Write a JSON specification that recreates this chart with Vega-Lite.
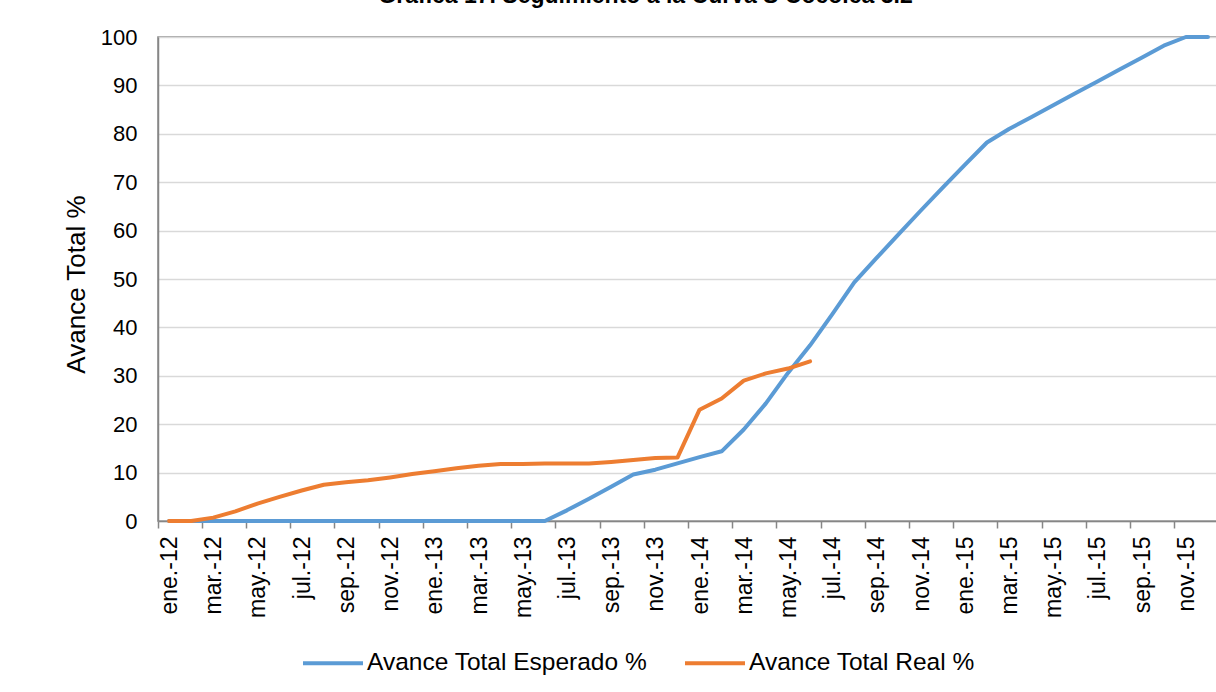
{
  "$schema": "https://vega.github.io/schema/vega-lite/v6.json",
  "width": 1061,
  "height": 484,
  "autosize": {"type": "none"},
  "padding": {"left": 158, "top": 37, "right": 0, "bottom": 171},
  "background": "white",
  "title": {
    "text": "Gráfica 17. Seguimiento a la Curva S Cocoica 3.2",
    "fontSize": 23,
    "fontWeight": "bold",
    "color": "#000000",
    "anchor": "middle",
    "frame": "group",
    "offset": 18,
    "dx": -43
  },
  "data": {
    "values": [
      {"mes": "ene.-12", "serie": "Avance Total Esperado %", "avance": 0},
      {"mes": "feb.-12", "serie": "Avance Total Esperado %", "avance": 0},
      {"mes": "mar.-12", "serie": "Avance Total Esperado %", "avance": 0},
      {"mes": "abr.-12", "serie": "Avance Total Esperado %", "avance": 0},
      {"mes": "may.-12", "serie": "Avance Total Esperado %", "avance": 0},
      {"mes": "jun.-12", "serie": "Avance Total Esperado %", "avance": 0},
      {"mes": "jul.-12", "serie": "Avance Total Esperado %", "avance": 0},
      {"mes": "ago.-12", "serie": "Avance Total Esperado %", "avance": 0},
      {"mes": "sep.-12", "serie": "Avance Total Esperado %", "avance": 0},
      {"mes": "oct.-12", "serie": "Avance Total Esperado %", "avance": 0},
      {"mes": "nov.-12", "serie": "Avance Total Esperado %", "avance": 0},
      {"mes": "dic.-12", "serie": "Avance Total Esperado %", "avance": 0},
      {"mes": "ene.-13", "serie": "Avance Total Esperado %", "avance": 0},
      {"mes": "feb.-13", "serie": "Avance Total Esperado %", "avance": 0},
      {"mes": "mar.-13", "serie": "Avance Total Esperado %", "avance": 0},
      {"mes": "abr.-13", "serie": "Avance Total Esperado %", "avance": 0},
      {"mes": "may.-13", "serie": "Avance Total Esperado %", "avance": 0},
      {"mes": "jun.-13", "serie": "Avance Total Esperado %", "avance": 0},
      {"mes": "jul.-13", "serie": "Avance Total Esperado %", "avance": 2.2},
      {"mes": "ago.-13", "serie": "Avance Total Esperado %", "avance": 4.6},
      {"mes": "sep.-13", "serie": "Avance Total Esperado %", "avance": 7.1},
      {"mes": "oct.-13", "serie": "Avance Total Esperado %", "avance": 9.6},
      {"mes": "nov.-13", "serie": "Avance Total Esperado %", "avance": 10.6},
      {"mes": "dic.-13", "serie": "Avance Total Esperado %", "avance": 11.9},
      {"mes": "ene.-14", "serie": "Avance Total Esperado %", "avance": 13.2},
      {"mes": "feb.-14", "serie": "Avance Total Esperado %", "avance": 14.4},
      {"mes": "mar.-14", "serie": "Avance Total Esperado %", "avance": 18.9},
      {"mes": "abr.-14", "serie": "Avance Total Esperado %", "avance": 24.3},
      {"mes": "may.-14", "serie": "Avance Total Esperado %", "avance": 30.6},
      {"mes": "jun.-14", "serie": "Avance Total Esperado %", "avance": 36.3},
      {"mes": "jul.-14", "serie": "Avance Total Esperado %", "avance": 42.7},
      {"mes": "ago.-14", "serie": "Avance Total Esperado %", "avance": 49.3},
      {"mes": "sep.-14", "serie": "Avance Total Esperado %", "avance": 54.3},
      {"mes": "oct.-14", "serie": "Avance Total Esperado %", "avance": 59.2},
      {"mes": "nov.-14", "serie": "Avance Total Esperado %", "avance": 64.1},
      {"mes": "dic.-14", "serie": "Avance Total Esperado %", "avance": 68.9},
      {"mes": "ene.-15", "serie": "Avance Total Esperado %", "avance": 73.6},
      {"mes": "feb.-15", "serie": "Avance Total Esperado %", "avance": 78.2},
      {"mes": "mar.-15", "serie": "Avance Total Esperado %", "avance": 81.0},
      {"mes": "abr.-15", "serie": "Avance Total Esperado %", "avance": 83.4},
      {"mes": "may.-15", "serie": "Avance Total Esperado %", "avance": 85.9},
      {"mes": "jun.-15", "serie": "Avance Total Esperado %", "avance": 88.4},
      {"mes": "jul.-15", "serie": "Avance Total Esperado %", "avance": 90.8},
      {"mes": "ago.-15", "serie": "Avance Total Esperado %", "avance": 93.3},
      {"mes": "sep.-15", "serie": "Avance Total Esperado %", "avance": 95.7},
      {"mes": "oct.-15", "serie": "Avance Total Esperado %", "avance": 98.2},
      {"mes": "nov.-15", "serie": "Avance Total Esperado %", "avance": 100},
      {"mes": "dic.-15", "serie": "Avance Total Esperado %", "avance": 100},
      {"mes": "ene.-12", "serie": "Avance Total Real %", "avance": 0},
      {"mes": "feb.-12", "serie": "Avance Total Real %", "avance": 0},
      {"mes": "mar.-12", "serie": "Avance Total Real %", "avance": 0.7},
      {"mes": "abr.-12", "serie": "Avance Total Real %", "avance": 2.0},
      {"mes": "may.-12", "serie": "Avance Total Real %", "avance": 3.6},
      {"mes": "jun.-12", "serie": "Avance Total Real %", "avance": 5.0},
      {"mes": "jul.-12", "serie": "Avance Total Real %", "avance": 6.3},
      {"mes": "ago.-12", "serie": "Avance Total Real %", "avance": 7.5},
      {"mes": "sep.-12", "serie": "Avance Total Real %", "avance": 8.0},
      {"mes": "oct.-12", "serie": "Avance Total Real %", "avance": 8.4},
      {"mes": "nov.-12", "serie": "Avance Total Real %", "avance": 9.0},
      {"mes": "dic.-12", "serie": "Avance Total Real %", "avance": 9.7},
      {"mes": "ene.-13", "serie": "Avance Total Real %", "avance": 10.3},
      {"mes": "feb.-13", "serie": "Avance Total Real %", "avance": 10.9},
      {"mes": "mar.-13", "serie": "Avance Total Real %", "avance": 11.4},
      {"mes": "abr.-13", "serie": "Avance Total Real %", "avance": 11.8},
      {"mes": "may.-13", "serie": "Avance Total Real %", "avance": 11.8},
      {"mes": "jun.-13", "serie": "Avance Total Real %", "avance": 11.9},
      {"mes": "jul.-13", "serie": "Avance Total Real %", "avance": 11.9},
      {"mes": "ago.-13", "serie": "Avance Total Real %", "avance": 11.9},
      {"mes": "sep.-13", "serie": "Avance Total Real %", "avance": 12.2},
      {"mes": "oct.-13", "serie": "Avance Total Real %", "avance": 12.6},
      {"mes": "nov.-13", "serie": "Avance Total Real %", "avance": 13.0},
      {"mes": "dic.-13", "serie": "Avance Total Real %", "avance": 13.1},
      {"mes": "ene.-14", "serie": "Avance Total Real %", "avance": 23.0},
      {"mes": "feb.-14", "serie": "Avance Total Real %", "avance": 25.3},
      {"mes": "mar.-14", "serie": "Avance Total Real %", "avance": 29.0},
      {"mes": "abr.-14", "serie": "Avance Total Real %", "avance": 30.5},
      {"mes": "may.-14", "serie": "Avance Total Real %", "avance": 31.5},
      {"mes": "jun.-14", "serie": "Avance Total Real %", "avance": 33.0}
    ]
  },
  "mark": {"type": "line", "strokeWidth": 4, "strokeCap": "round", "strokeJoin": "round"},
  "encoding": {
    "x": {
      "field": "mes",
      "type": "ordinal",
      "bandPosition": 0.5,
      "scale": {
        "type": "band",
        "paddingInner": 0,
        "paddingOuter": 0,
        "domain": ["ene.-12", "feb.-12", "mar.-12", "abr.-12", "may.-12", "jun.-12", "jul.-12", "ago.-12", "sep.-12", "oct.-12", "nov.-12", "dic.-12",
                   "ene.-13", "feb.-13", "mar.-13", "abr.-13", "may.-13", "jun.-13", "jul.-13", "ago.-13", "sep.-13", "oct.-13", "nov.-13", "dic.-13",
                   "ene.-14", "feb.-14", "mar.-14", "abr.-14", "may.-14", "jun.-14", "jul.-14", "ago.-14", "sep.-14", "oct.-14", "nov.-14", "dic.-14",
                   "ene.-15", "feb.-15", "mar.-15", "abr.-15", "may.-15", "jun.-15", "jul.-15", "ago.-15", "sep.-15", "oct.-15", "nov.-15", "dic.-15"]
      },
      "axis": {
        "title": null,
        "values": ["ene.-12", "mar.-12", "may.-12", "jul.-12", "sep.-12", "nov.-12",
                   "ene.-13", "mar.-13", "may.-13", "jul.-13", "sep.-13", "nov.-13",
                   "ene.-14", "mar.-14", "may.-14", "jul.-14", "sep.-14", "nov.-14",
                   "ene.-15", "mar.-15", "may.-15", "jul.-15", "sep.-15", "nov.-15"],
        "bandPosition": 0,
        "labelOffset": 1,
        "labelAngle": 270,
        "labelFontSize": 23,
        "labelColor": "#000000",
        "labelPadding": 8,
        "tickSize": 7,
        "tickWidth": 1.5,
        "tickColor": "#868686",
        "domainColor": "#868686",
        "domainWidth": 1.5,
        "grid": false
      }
    },
    "y": {
      "field": "avance",
      "type": "quantitative",
      "scale": {"domain": [0, 100], "nice": false},
      "axis": {
        "title": "Avance Total %",
        "titleFontSize": 26,
        "titleFontWeight": "normal",
        "titleColor": "#000000",
        "titlePadding": 11,
        "titleY": 247,
        "values": [0, 10, 20, 30, 40, 50, 60, 70, 80, 90, 100],
        "labelFontSize": 22,
        "labelColor": "#000000",
        "labelPadding": 21,
        "ticks": false,
        "tickSize": 0,
        "domainColor": "#868686",
        "domainWidth": 1.5,
        "grid": true,
        "gridColor": "#d9d9d9",
        "gridWidth": 1.5
      }
    },
    "color": {
      "field": "serie",
      "type": "nominal",
      "scale": {
        "domain": ["Avance Total Esperado %", "Avance Total Real %"],
        "range": ["#5B9BD5", "#ED7D31"]
      },
      "legend": {
        "title": null,
        "orient": "none",
        "direction": "horizontal",
        "legendX": 143,
        "legendY": 594,
        "symbolType": "stroke",
        "symbolSize": 3600,
        "symbolStrokeWidth": 4,
        "labelFontSize": 24.5,
        "labelColor": "#000000",
        "labelLimit": 0,
        "labelOffset": 2,
        "columnPadding": 29
      }
    }
  },
  "config": {
    "font": "Liberation Sans",
    "view": {"stroke": "#868686", "strokeWidth": 1.5}
  }
}
